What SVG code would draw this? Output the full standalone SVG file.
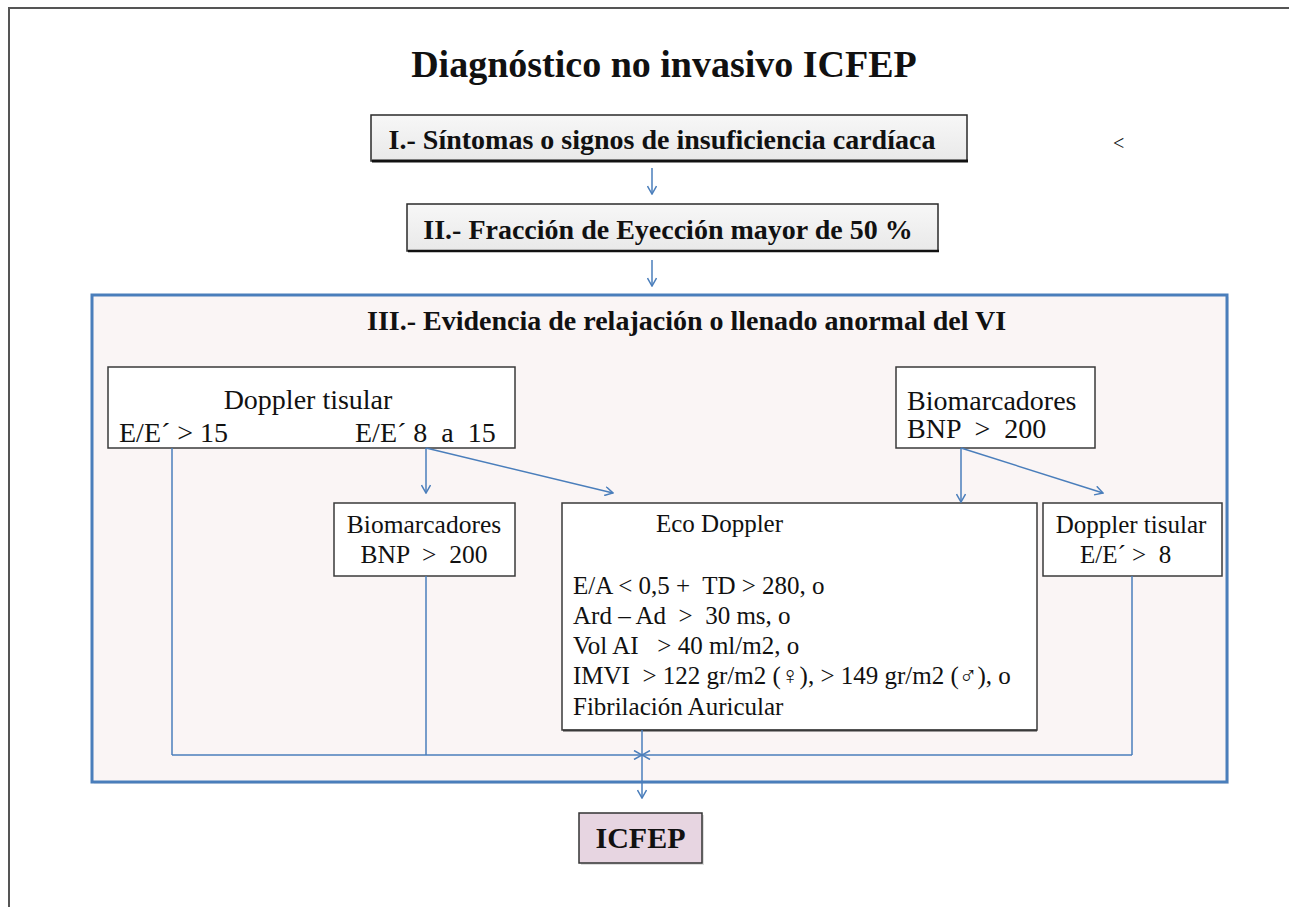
<svg xmlns="http://www.w3.org/2000/svg" width="1289" height="907" viewBox="0 0 1289 907">
<style>
  text { font-family: "Liberation Serif", "DejaVu Serif", serif; fill: #111; white-space: pre; }
  .b { font-weight: bold; }
  .box { fill: #ffffff; stroke: #3a3a3a; stroke-width: 1.5; }
  .gbox { fill: url(#gray); stroke: #2a2a2a; stroke-width: 1.5; }
  .con { fill: none; stroke: #4a7ebb; stroke-width: 1.5; }
  .arr { marker-end: url(#ah); }
</style>
<defs>
  <linearGradient id="gray" x1="0" y1="0" x2="0" y2="1">
    <stop offset="0" stop-color="#f7f7f7"/>
    <stop offset="1" stop-color="#e9e9e9"/>
  </linearGradient>
  <marker id="ah" viewBox="0 0 10 10" refX="9" refY="5" markerWidth="10" markerHeight="10" markerUnits="userSpaceOnUse" orient="auto">
    <path d="M1,0.5 L9,5 L1,9.5" fill="none" stroke="#4a7ebb" stroke-width="1.5"/>
  </marker>
</defs>
<rect width="1289" height="907" fill="#ffffff"/>
<path d="M9,907 V8 H1289" fill="none" stroke="#555" stroke-width="2"/>

<g id="title">
  <text class="b" x="664" y="77" font-size="38" text-anchor="middle">Diagnóstico no invasivo ICFEP</text>
</g>
<g id="mark"><text x="1113" y="150" font-size="20">&lt;</text></g>

<g id="step1">
  <rect x="371" y="115" width="596" height="46" class="gbox"/>
  <line x1="372" y1="161" x2="968" y2="161" stroke="#111" stroke-width="3"/>
  <text class="b" x="662" y="149" font-size="28" text-anchor="middle">I.- Síntomas o signos de insuficiencia cardíaca</text>
</g>
<g id="step2">
  <rect x="407" y="204" width="531" height="47" class="gbox"/>
  <line x1="408" y1="251" x2="939" y2="251" stroke="#111" stroke-width="2.5"/>
  <text class="b" x="668" y="239" font-size="28" text-anchor="middle">II.- Fracción de Eyección mayor de 50 %</text>
</g>

<g id="step3">
  <rect x="94" y="297" width="1135" height="487" fill="#e8e4e4" opacity="0.6"/>
  <rect x="92" y="295" width="1135" height="487" fill="#faf5f5" stroke="#4a7ebb" stroke-width="3"/>
  <text class="b" x="367" y="330" font-size="28">III.- Evidencia de relajación o llenado anormal del VI</text>
</g>

<g id="doppler1">
  <rect x="108" y="367" width="407" height="81" class="box"/>
  <text x="308" y="409" font-size="28" text-anchor="middle">Doppler tisular</text>
  <text x="119" y="442" font-size="28">E/E´ &gt; 15</text>
  <text x="355" y="442" font-size="28">E/E´ 8  a  15</text>
</g>

<g id="bio1">
  <rect x="334" y="503" width="181" height="73" class="box"/>
  <text x="424" y="533" font-size="25.5" text-anchor="middle">Biomarcadores</text>
  <text x="424" y="563" font-size="25.5" text-anchor="middle">BNP  &gt;  200</text>
</g>

<g id="bio2">
  <rect x="896" y="367" width="199" height="81" class="box"/>
  <text x="907" y="410" font-size="28">Biomarcadores</text>
  <text x="907" y="438" font-size="28">BNP  &gt;  200</text>
</g>

<g id="eco">
  <rect x="562" y="503" width="475" height="227" class="box"/>
  <line x1="563" y1="730.5" x2="1037" y2="730.5" stroke="#3a3a3a" stroke-width="2"/>
  <text x="656" y="532" font-size="25">Eco Doppler</text>
  <text x="573" y="594" font-size="25">E/A &lt; 0,5 +  TD &gt; 280, o</text>
  <text x="573" y="624" font-size="25">Ard – Ad  &gt;  30 ms, o</text>
  <text x="573" y="654" font-size="25">Vol AI   &gt; 40 ml/m2, o</text>
  <text x="573" y="684" font-size="25">IMVI  &gt; 122 gr/m2 (♀), &gt; 149 gr/m2 (♂), o</text>
  <text x="573" y="715" font-size="25">Fibrilación Auricular</text>
</g>

<g id="doppler2">
  <rect x="1043" y="503" width="179" height="73" class="box"/>
  <text x="1131" y="533" font-size="25" text-anchor="middle">Doppler tisular</text>
  <text x="1080" y="563" font-size="25">E/E´ &gt;  8</text>
</g>

<g id="icfep">
  <rect x="581" y="815" width="123" height="50" fill="#bbb" opacity="0.5"/>
  <rect x="579" y="813" width="123" height="50" fill="#e7d5e1" stroke="#333" stroke-width="1.5"/>
  <text class="b" x="640.5" y="848" font-size="30" text-anchor="middle">ICFEP</text>
</g>

<g id="connectors">
  <line class="con arr" x1="652" y1="168" x2="652" y2="194"/>
  <line class="con arr" x1="652" y1="260" x2="652" y2="286"/>
  <line class="con arr" x1="426" y1="448" x2="426" y2="493"/>
  <line class="con arr" x1="426" y1="448" x2="613" y2="493"/>
  <line class="con arr" x1="961" y1="448" x2="961" y2="502"/>
  <line class="con arr" x1="961" y1="448" x2="1103" y2="493"/>
  <line class="con" x1="172" y1="448" x2="172" y2="755"/>
  <line class="con" x1="426" y1="576" x2="426" y2="755"/>
  <line class="con" x1="1132" y1="576" x2="1132" y2="755"/>
  <line class="con arr" x1="172" y1="755" x2="642" y2="755"/>
  <line class="con arr" x1="1132" y1="755" x2="642" y2="755"/>
  <line class="con arr" x1="642" y1="730" x2="642" y2="798"/>
</g>
</svg>
